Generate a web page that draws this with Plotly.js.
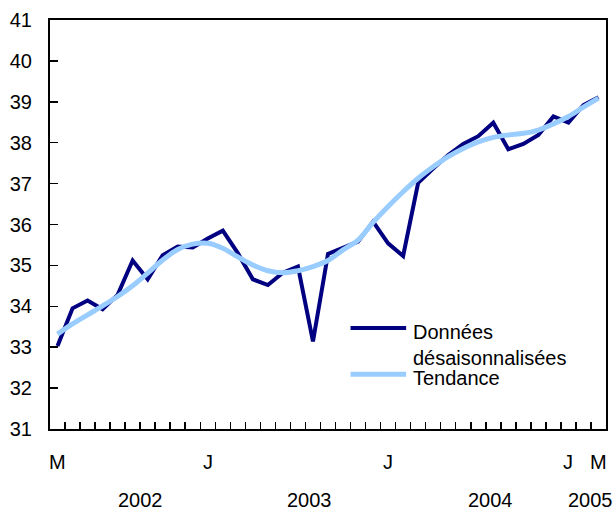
<!DOCTYPE html>
<html>
<head>
<meta charset="utf-8">
<script src="https://cdn.plot.ly/plotly-3.0.1.min.js"></script>
<style>html,body{margin:0;padding:0;background:#fff;}#chart{width:612px;height:510px;}</style>
</head>
<body>
<div id="chart"></div>
<script>
// Months from March 2002 (index 0) to March 2005 (index 36)
const monthIndex = Array.from({length: 37}, (_, i) => i);
const donnees = [33.03, 33.95, 34.14, 33.93, 34.28, 35.12, 34.66, 35.25, 35.46, 35.44,
  35.66, 35.85, 35.30, 34.66, 34.52, 34.82, 34.97, 33.14, 35.28, 35.42,
  35.58, 36.07, 35.54, 35.23, 37.02, 37.37, 37.70, 37.97, 38.16, 38.49,
  37.84, 37.97, 38.19, 38.64, 38.49, 38.92, 39.11];
const tendance = [33.32, 33.57, 33.79, 34.01, 34.24, 34.50, 34.81, 35.13, 35.39, 35.52,
  35.54, 35.42, 35.21, 35.01, 34.87, 34.82, 34.87, 34.97, 35.12, 35.38,
  35.62, 36.05, 36.44, 36.80, 37.13, 37.41, 37.66, 37.86, 38.02, 38.13,
  38.19, 38.23, 38.31, 38.46, 38.64, 38.87, 39.09];
const monthLabelPos = [0, 10, 22, 34, 36];
const monthLabels = ['M', 'J', 'J', 'J', 'M'];
const yearLabelPos = [5.5, 16.8, 28.8, 35.5];
const yearLabels = ['2002', '2003', '2004', '2005'];
const seriesNames = ['Données<br>désaisonnalisées', 'Tendance'];
const minorTicks = Array.from({length: 36}, (_, i) => i + 0.5);

const font = {family: 'Liberation Sans, Arial, Helvetica, sans-serif', size: 20, color: '#000'};
const navy = '#000080';
const light = '#99ccff';

const traces = [
  {x: monthIndex, y: donnees, type: 'scatter', mode: 'lines', name: 'Données',
   line: {color: navy, width: 4}, showlegend: false},
  {x: monthIndex, y: tendance, type: 'scatter', mode: 'lines', name: 'Tendance',
   line: {color: light, width: 5, shape: 'spline'}, showlegend: false}
];

const annotations = [];
monthLabelPos.forEach((p, i) => annotations.push({x: p, xref: 'x', y: -0.081, yref: 'paper',
  text: monthLabels[i], showarrow: false, xanchor: 'center', yanchor: 'middle', font: font}));
yearLabelPos.forEach((p, i) => annotations.push({x: p, xref: 'x', y: -0.174, yref: 'paper',
  text: yearLabels[i], showarrow: false, xanchor: 'center', yanchor: 'middle', font: font}));
// legend
annotations.push({x: 23.5, xref: 'x', y: 33.38, yref: 'y', text: 'Données', showarrow: false,
  xanchor: 'left', yanchor: 'middle', font: font});
annotations.push({x: 23.5, xref: 'x', y: 32.74, yref: 'y', text: 'désaisonnalisées', showarrow: false,
  xanchor: 'left', yanchor: 'middle', font: font});
annotations.push({x: 23.5, xref: 'x', y: 32.24, yref: 'y', text: 'Tendance', showarrow: false,
  xanchor: 'left', yanchor: 'middle', font: font});

const shapes = [
  {type: 'line', xref: 'x', yref: 'y', x0: 19.5, x1: 23.2, y0: 33.47, y1: 33.47, line: {color: navy, width: 4}},
  {type: 'line', xref: 'x', yref: 'y', x0: 19.5, x1: 23.2, y0: 32.34, y1: 32.34, line: {color: light, width: 5}}
];

const layout = {
  width: 612, height: 510,
  margin: {l: 50, r: 6, t: 20, b: 81},
  paper_bgcolor: '#fff', plot_bgcolor: '#fff',
  font: font,
  showlegend: false,
  xaxis: {range: [-0.5, 36.5], showgrid: false, zeroline: false, showline: true, linecolor: '#000', linewidth: 2,
    mirror: true, tickmode: 'array', tickvals: minorTicks, ticktext: minorTicks.map(() => ''),
    ticks: 'inside', ticklen: 7, tickwidth: 1.5, tickcolor: '#000', fixedrange: true},
  yaxis: {range: [31, 41], showgrid: false, zeroline: false, showline: true, linecolor: '#000', linewidth: 2,
    mirror: true, tickmode: 'linear', tick0: 31, dtick: 1, ticks: 'inside', ticklen: 8, tickwidth: 1.5,
    tickcolor: '#000', ticklabelstandoff: 12, tickfont: font, fixedrange: true},
  annotations: annotations,
  shapes: shapes
};

Plotly.newPlot('chart', traces, layout, {displayModeBar: false, staticPlot: true});
</script>
</body>
</html>
